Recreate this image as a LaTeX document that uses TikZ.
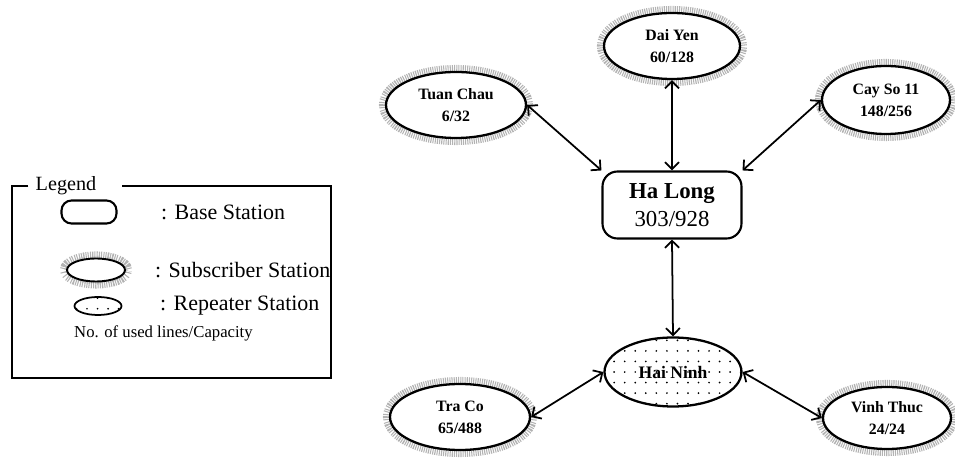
\documentclass[tikz,border=0pt]{standalone}
\usepackage{fontspec}
\setmainfont{Liberation Serif}
\usepackage{tikz}
\usetikzlibrary{arrows.meta}
\usetikzlibrary{patterns}
\usetikzlibrary{shapes.geometric}

% sparse dots for the repeater station
\pgfdeclarepatternformonly{sparsedots}{\pgfqpoint{-1pt}{-1pt}}{\pgfqpoint{6pt}{6pt}}{\pgfqpoint{6pt}{6pt}}%
{\pgfpathcircle{\pgfqpoint{1.5pt}{1.5pt}}{0.55pt}\pgfusepath{fill}}

\tikzset{
	base/.style={draw, line width=1.2pt, rounded corners=0.3cm, minimum width=2.78cm, minimum height=1.34cm, align=center, inner sep=0pt,
		font=\fontsize{13}{16}\selectfont},
	subst/.style={ellipse, draw, line width=1.3pt, fill=white, minimum width=2.8cm, minimum height=1.32cm, align=center, inner sep=0pt,
		preaction={draw=black!30, line width=8pt, dash pattern=on 0.6pt off 0.6pt},
		font=\fontsize{9}{12.5}\selectfont\bfseries},
	repeater/.style={ellipse, draw, line width=1.3pt, pattern=sparsedots, minimum width=2.74cm, minimum height=1.38cm, inner sep=0pt,
		font=\fontsize{10}{12}\selectfont\bfseries},
	link/.style={line width=1pt, {Straight Barb[length=4pt,width=8pt]}-{Straight Barb[length=4pt,width=8pt]}},
	legtext/.style={anchor=west, font=\fontsize{12.5}{15}\selectfont}
}

\begin{document}
\begin{tikzpicture}
	\useasboundingbox (0,0) rectangle (19.1,9.18);
	
	% legend
	\node[inner sep=0pt, font=\fontsize{11.5}{13}\selectfont] (legtitle) at (1.32,5.46) {Legend};
	\draw[line width=1pt] ([xshift=-4pt]legtitle.west) -- (0.24,5.46) -- (0.24,1.62) -- (6.62,1.62) -- (6.62,5.46) -- (2.44,5.46);
	
	\node[base, minimum width=1.1cm, minimum height=0.46cm, rounded corners=0.2cm] (legbase) at (1.78,4.94) {};
	\node[legtext] (legbasetxt) at (3.1,4.94) {: Base Station};
	
	\node[subst, minimum width=1.16cm, minimum height=0.46cm, line width=1.1pt,
		preaction={draw=black!30, line width=3pt, dash pattern=on 0.6pt off 0.6pt}] (legsub) at (1.92,3.78) {};
	\node[legtext] (legsubtxt) at (2.98,3.78) {: Subscriber Station};
	
	\node[repeater, minimum width=0.94cm, minimum height=0.36cm, line width=1pt] (legrep) at (1.96,3.06) {};
	\node[legtext] (legreptxt) at (3.08,3.06) {: Repeater Station};
	
	\node[anchor=west, font=\fontsize{9.5}{11}\selectfont] (legnote) at (1.36,2.52) {No. of used lines/Capacity};
	
	% stations
	\node[base] (halong) at (13.44,5.08) {\textbf{Ha Long}\\303/928};
	
	\node[subst, minimum width=2.72cm] (daiyen) at (13.44,8.26) {Dai Yen\\60/128};
	\node[subst] (tuanchau) at (9.12,7.08) {Tuan Chau\\6/32};
	\node[subst, minimum width=2.56cm, minimum height=1.36cm] (cayso) at (17.72,7.18) {Cay So 11\\148/256};
	
	\node[repeater] (haininh) at (13.46,1.74) {Hai Ninh};
	
	\node[subst] (traco) at (9.2,0.84) {Tra Co\\65/488};
	\node[subst, minimum width=2.56cm, minimum height=1.24cm] (vinhthuc) at (17.74,0.82) {Vinh Thuc\\24/24};
	
	% links
	\draw[link] (tuanchau.east) -- (halong.north west);
	\draw[link] (daiyen.south) -- (halong.north);
	\draw[link] (cayso.west) -- (halong.north east);
	\draw[link] (halong.south) -- (haininh.north);
	\draw[link] (traco.east) -- (haininh.west);
	\draw[link] (haininh.east) -- (vinhthuc.west);
	
\end{tikzpicture}
\end{document}
